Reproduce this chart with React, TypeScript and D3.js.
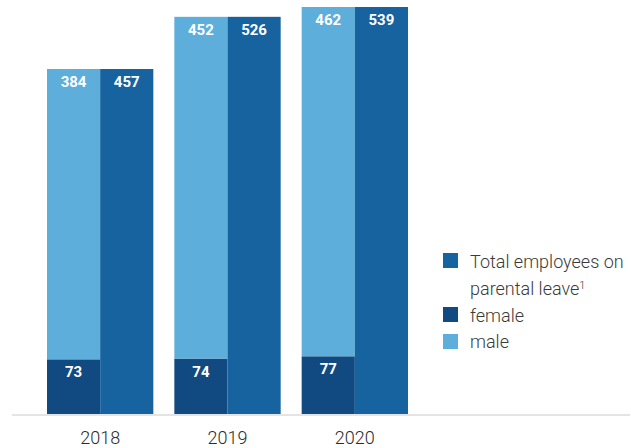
import React from "react";
import * as d3 from "d3";

const years = ["2018", "2019", "2020"];
const female = [73, 74, 77];
const male = [384, 452, 462];
const total = [457, 526, 539];

const colors = { total: "#17639f", female: "#114a80", male: "#5eaedb" };
const font = "Roboto, 'Noto Sans', sans-serif";

export default function App() {
  const W = 631, H = 448;
  const x = d3.scaleBand<string>().domain(years).range([47, 408]).paddingInner(0.165).paddingOuter(0);
  const inner = d3.scaleBand<string>().domain(["stack", "total"]).range([0, x.bandwidth()]);
  const y = d3.scaleLinear().domain([0, 539]).range([414.5, 7]);

  return (
    <svg width={W} height={H} style={{ position: "absolute", left: 0, top: 0 }} fontFamily={font}>
      {years.map((yr, i) => {
        const gx = x(yr)!;
        const sx = gx + inner("stack")!;
        const tx = gx + inner("total")!;
        const bw = inner.bandwidth();
        const fTop = y(female[i]);
        const mTop = y(female[i] + male[i]);
        const tTop = y(total[i]);
        return (
          <g key={yr}>
            <rect x={sx} y={fTop} width={bw} height={y(0) - fTop} fill={colors.female} />
            <rect x={sx} y={mTop} width={bw} height={fTop - mTop} fill={colors.male} />
            <rect x={tx} y={tTop} width={bw} height={y(0) - tTop} fill={colors.total} />
            <text x={sx + bw / 2} y={mTop + 18} textAnchor="middle" fill="#fff" fontWeight={700} fontSize={15}>{male[i]}</text>
            <text x={tx + bw / 2} y={tTop + 18} textAnchor="middle" fill="#fff" fontWeight={700} fontSize={15}>{total[i]}</text>
            <text x={sx + bw / 2} y={fTop + 18} textAnchor="middle" fill="#fff" fontWeight={700} fontSize={15}>{female[i]}</text>
            <text x={gx + x.bandwidth() / 2} y={444} textAnchor="middle" fill="#2b2b2b" fontWeight={300} fontSize={18}>{yr}</text>
          </g>
        );
      })}
      <line x1={12} x2={630} y1={415} y2={415} stroke="#e4e4e4" strokeWidth={2} />
      <g fill="#3a3a3a" fontSize={18} fontWeight={300}>
        <rect x={443} y={253} width={15} height={15} fill={colors.total} />
        <text x={470} y={268}>Total employees on</text>
        <text x={470} y={295}>parental leave<tspan fontSize={11} dy={-6}>1</tspan></text>
        <rect x={443} y={307} width={15} height={15} fill={colors.female} />
        <text x={470} y={322}>female</text>
        <rect x={443} y={334} width={15} height={15} fill={colors.male} />
        <text x={470} y={348}>male</text>
      </g>
    </svg>
  );
}
